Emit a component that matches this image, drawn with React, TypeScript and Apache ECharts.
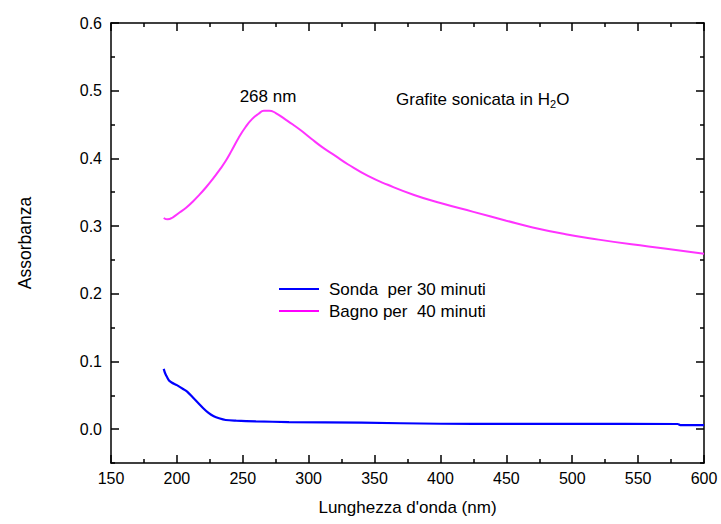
import React, { useEffect, useRef } from "react";
import * as echarts from "echarts";

const FONT = '"Liberation Sans", Arial, Helvetica, sans-serif';

// Bagno per 40 minuti (magenta)
const wavelengthBagno = [190, 193, 197, 202, 207, 212, 217, 222, 227, 232, 237, 242, 247, 252, 257, 262, 266, 270, 275, 282, 288, 295, 302, 310, 320, 330, 345, 360, 380, 400, 425, 450, 470, 495, 520, 545, 570, 600];
const absorbanceBagno = [0.312, 0.31, 0.313, 0.32, 0.327, 0.336, 0.346, 0.357, 0.369, 0.382, 0.396, 0.413, 0.431, 0.446, 0.458, 0.466, 0.4705, 0.4705, 0.467, 0.458, 0.45, 0.44, 0.429, 0.417, 0.404, 0.391, 0.374, 0.361, 0.346, 0.334, 0.321, 0.308, 0.298, 0.288, 0.28, 0.273, 0.267, 0.259];

// Sonda per 30 minuti (blue)
const wavelengthSonda = [190, 191, 192.5, 194, 196, 200, 205, 208, 212, 216, 220, 224, 228, 232, 237, 245, 260, 285, 340, 400, 450, 500, 580, 582, 600];
const absorbanceSonda = [0.089, 0.083, 0.077, 0.072, 0.069, 0.065, 0.059, 0.055, 0.047, 0.039, 0.031, 0.024, 0.019, 0.016, 0.0135, 0.0125, 0.0115, 0.0105, 0.0095, 0.008, 0.0078, 0.0077, 0.0076, 0.006, 0.006];

const seriesNames = ["Sonda  per 30 minuti", "Bagno per  40 minuti"];
const seriesColors = ["#0000ff", "#ff00ff"];
const yMajorTicks = [0, 0.1, 0.2, 0.3, 0.4, 0.5, 0.6];
const yMinorTicks = [-0.05, 0.05, 0.15, 0.25, 0.35, 0.45, 0.55];
const xMin = 150;
const xMax = 600;
const xInterval = 50;
const yMin = -0.05;
const yMax = 0.6;

const pairs = (xs: number[], ys: number[]) => xs.map((x, i) => [x, ys[i]]);

export default function App() {
  const ref = useRef<HTMLDivElement>(null);
  useEffect(() => {
    if (!ref.current) return;
    const chart = echarts.init(ref.current, undefined, { renderer: "svg" });
    const axisLine = { show: true, onZero: false, lineStyle: { color: "#000", width: 1.5 } };
    const xBase = (pos: "bottom" | "top", labels: boolean) => ({
      type: "value" as const,
      position: pos,
      min: xMin,
      max: xMax,
      interval: xInterval,
      axisLine,
      axisTick: { show: true, inside: true, length: 8, lineStyle: { color: "#000", width: 1.5 } },
      minorTick: { show: true, splitNumber: 2, length: 4, lineStyle: { color: "#000", width: 1.5 } },
      splitLine: { show: false },
      axisLabel: { show: labels, color: "#000", fontSize: 16, fontFamily: FONT, margin: 7 },
      name: labels ? "Lunghezza d'onda (nm)" : "",
      nameLocation: "middle" as const,
      nameGap: 36,
      nameTextStyle: { color: "#000", fontSize: 17, fontFamily: FONT },
    });
    const yBase = (pos: "left" | "right", major: boolean, labels: boolean) => ({
      type: "value" as const,
      position: pos,
      min: yMin,
      max: yMax,
      axisLine: major ? axisLine : { show: false },
      axisTick: {
        show: true,
        inside: true,
        length: major ? 8 : 4,
        customValues: major ? yMajorTicks : yMinorTicks,
        lineStyle: { color: "#000", width: 1.5 },
      },
      splitLine: { show: false },
      axisLabel: {
        show: labels,
        customValues: yMajorTicks,
        color: "#000",
        fontSize: 16,
        fontFamily: FONT,
        margin: 9,
        formatter: (v: number) => v.toFixed(1),
      },
      name: labels ? "Assorbanza" : "",
      nameLocation: "middle" as const,
      nameGap: 77,
      nameTextStyle: { color: "#000", fontSize: 17.5, fontFamily: FONT },
    });
    chart.setOption({
      animation: false,
      backgroundColor: "#fff",
      grid: { left: 111, right: 17, top: 23, bottom: 61, containLabel: false },
      xAxis: [xBase("bottom", true), xBase("top", false)],
      yAxis: [
        yBase("left", true, true),
        yBase("left", false, false),
        yBase("right", true, false),
        yBase("right", false, false),
      ],
      legend: {
        orient: "vertical",
        left: 274,
        top: 275,
        icon: "rect",
        itemWidth: 40,
        itemHeight: 2,
        itemGap: 4,
        textStyle: { color: "#000", fontSize: 17, fontFamily: FONT, lineHeight: 18, padding: [0, 0, 0, 5] },
        data: seriesNames,
      },
      series: [
        {
          name: seriesNames[0],
          type: "line",
          xAxisIndex: 0,
          yAxisIndex: 0,
          data: pairs(wavelengthSonda, absorbanceSonda),
          symbol: "none",
          smooth: 0.3,
          lineStyle: { color: seriesColors[0], width: 2.2 },
          itemStyle: { color: seriesColors[0] },
        },
        {
          name: seriesNames[1],
          type: "line",
          xAxisIndex: 0,
          yAxisIndex: 0,
          data: pairs(wavelengthBagno, absorbanceBagno),
          symbol: "none",
          smooth: 0.5,
          lineStyle: { color: "#ff33ff", width: 2 },
          itemStyle: { color: seriesColors[1] },
        },
      ],
      graphic: [
        {
          type: "text",
          x: 268,
          y: 96,
          style: { text: "268 nm", fill: "#000", font: `17px ${FONT}`, align: "center", verticalAlign: "middle" },
        },
        {
          type: "text",
          x: 396,
          y: 99,
          style: {
            text: "{a|Grafite sonicata in H}{b|2}{a|O}",
            fill: "#000",
            verticalAlign: "middle",
            rich: {
              a: { fontSize: 17, fontFamily: FONT, fill: "#000" },
              b: { fontSize: 11, fontFamily: FONT, fill: "#000", padding: [10, 0, 0, 0] },
            },
          },
        },
      ],
    });
    return () => chart.dispose();
  }, []);
  return <div ref={ref} style={{ width: 721, height: 524, position: "absolute", left: 0, top: 0 }} />;
}
